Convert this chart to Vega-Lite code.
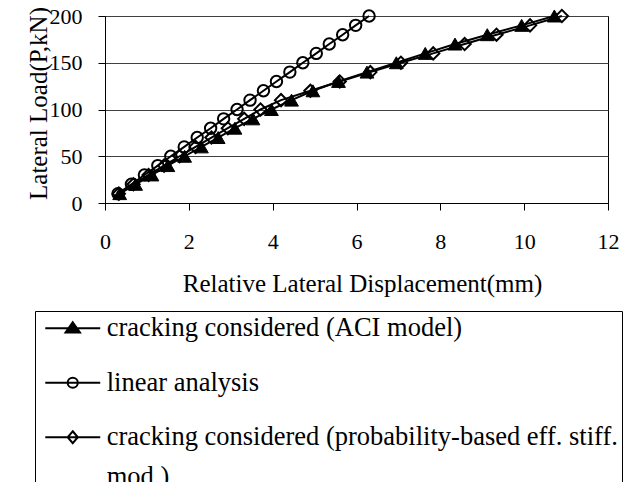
{
  "$schema": "https://vega.github.io/schema/vega-lite/v6.json",
  "width": 503,
  "height": 187,
  "autosize": {"type": "none"},
  "padding": {"left": 105, "top": 16, "right": 24, "bottom": 279},
  "background": "white",
  "config": {
    "font": "Liberation Serif",
    "view": {"stroke": "black", "strokeWidth": 1},
    "style": {"guide-label": {"lineHeight": 40}},
    "axis": {
      "labelFont": "Liberation Serif",
      "labelFontSize": 22,
      "labelColor": "black",
      "labelFlush": false,
      "titleFont": "Liberation Serif",
      "titleFontSize": 25,
      "titleFontWeight": "normal",
      "titleColor": "black",
      "domainColor": "black",
      "tickColor": "black",
      "tickSize": 7,
      "gridColor": "#404040",
      "gridWidth": 1
    },
    "legend": {"labelFont": "Liberation Serif"}
  },
  "data": {
    "values": [
      {"series": "cracking considered (ACI model)", "d": 0.35, "P": 10},
      {"series": "cracking considered (ACI model)", "d": 0.73, "P": 20},
      {"series": "cracking considered (ACI model)", "d": 1.12, "P": 30},
      {"series": "cracking considered (ACI model)", "d": 1.5, "P": 40},
      {"series": "cracking considered (ACI model)", "d": 1.9, "P": 50},
      {"series": "cracking considered (ACI model)", "d": 2.3, "P": 60},
      {"series": "cracking considered (ACI model)", "d": 2.7, "P": 70},
      {"series": "cracking considered (ACI model)", "d": 3.1, "P": 80},
      {"series": "cracking considered (ACI model)", "d": 3.53, "P": 90},
      {"series": "cracking considered (ACI model)", "d": 3.97, "P": 100},
      {"series": "cracking considered (ACI model)", "d": 4.45, "P": 110},
      {"series": "cracking considered (ACI model)", "d": 4.96, "P": 120},
      {"series": "cracking considered (ACI model)", "d": 5.57, "P": 130},
      {"series": "cracking considered (ACI model)", "d": 6.25, "P": 140},
      {"series": "cracking considered (ACI model)", "d": 6.95, "P": 150},
      {"series": "cracking considered (ACI model)", "d": 7.64, "P": 160},
      {"series": "cracking considered (ACI model)", "d": 8.35, "P": 170},
      {"series": "cracking considered (ACI model)", "d": 9.12, "P": 180},
      {"series": "cracking considered (ACI model)", "d": 9.94, "P": 190},
      {"series": "cracking considered (ACI model)", "d": 10.72, "P": 200},
      {"series": "linear analysis", "d": 0.31, "P": 10},
      {"series": "linear analysis", "d": 0.63, "P": 20},
      {"series": "linear analysis", "d": 0.94, "P": 30},
      {"series": "linear analysis", "d": 1.26, "P": 40},
      {"series": "linear analysis", "d": 1.57, "P": 50},
      {"series": "linear analysis", "d": 1.89, "P": 60},
      {"series": "linear analysis", "d": 2.2, "P": 70},
      {"series": "linear analysis", "d": 2.52, "P": 80},
      {"series": "linear analysis", "d": 2.83, "P": 90},
      {"series": "linear analysis", "d": 3.15, "P": 100},
      {"series": "linear analysis", "d": 3.46, "P": 110},
      {"series": "linear analysis", "d": 3.78, "P": 120},
      {"series": "linear analysis", "d": 4.09, "P": 130},
      {"series": "linear analysis", "d": 4.41, "P": 140},
      {"series": "linear analysis", "d": 4.72, "P": 150},
      {"series": "linear analysis", "d": 5.04, "P": 160},
      {"series": "linear analysis", "d": 5.35, "P": 170},
      {"series": "linear analysis", "d": 5.67, "P": 180},
      {"series": "linear analysis", "d": 5.98, "P": 190},
      {"series": "linear analysis", "d": 6.3, "P": 200},
      {"series": "cracking considered (probability-based eff. stiff. mod.)", "d": 0.33, "P": 10},
      {"series": "cracking considered (probability-based eff. stiff. mod.)", "d": 0.68, "P": 20},
      {"series": "cracking considered (probability-based eff. stiff. mod.)", "d": 1.04, "P": 30},
      {"series": "cracking considered (probability-based eff. stiff. mod.)", "d": 1.41, "P": 40},
      {"series": "cracking considered (probability-based eff. stiff. mod.)", "d": 1.78, "P": 50},
      {"series": "cracking considered (probability-based eff. stiff. mod.)", "d": 2.16, "P": 60},
      {"series": "cracking considered (probability-based eff. stiff. mod.)", "d": 2.54, "P": 70},
      {"series": "cracking considered (probability-based eff. stiff. mod.)", "d": 2.93, "P": 80},
      {"series": "cracking considered (probability-based eff. stiff. mod.)", "d": 3.32, "P": 90},
      {"series": "cracking considered (probability-based eff. stiff. mod.)", "d": 3.71, "P": 100},
      {"series": "cracking considered (probability-based eff. stiff. mod.)", "d": 4.2, "P": 110},
      {"series": "cracking considered (probability-based eff. stiff. mod.)", "d": 4.9, "P": 120},
      {"series": "cracking considered (probability-based eff. stiff. mod.)", "d": 5.6, "P": 130},
      {"series": "cracking considered (probability-based eff. stiff. mod.)", "d": 6.33, "P": 140},
      {"series": "cracking considered (probability-based eff. stiff. mod.)", "d": 7.06, "P": 150},
      {"series": "cracking considered (probability-based eff. stiff. mod.)", "d": 7.83, "P": 160},
      {"series": "cracking considered (probability-based eff. stiff. mod.)", "d": 8.58, "P": 170},
      {"series": "cracking considered (probability-based eff. stiff. mod.)", "d": 9.34, "P": 180},
      {"series": "cracking considered (probability-based eff. stiff. mod.)", "d": 10.14, "P": 190},
      {"series": "cracking considered (probability-based eff. stiff. mod.)", "d": 10.9, "P": 200}
    ]
  },
  "encoding": {
    "x": {
      "field": "d",
      "type": "quantitative",
      "scale": {"domain": [0, 12], "nice": false},
      "axis": {
        "values": [0, 2, 4, 6, 8, 10, 12],
        "grid": false,
        "title": "Relative Lateral Displacement(mm)",
        "labelFont": "Liberation Serif",
        "labelFlush": false,
        "labelPadding": 21,
        "tickSize": 7,
        "titleX": 257,
        "titleY": 88,
        "titleBaseline": "alphabetic"
      }
    },
    "y": {
      "field": "P",
      "type": "quantitative",
      "scale": {"domain": [0, 200], "nice": false},
      "axis": {
        "values": [0, 50, 100, 150, 200],
        "grid": true,
        "title": "Lateral Load(P,kN)",
        "labelFont": "Liberation Serif",
        "labelFlush": false,
        "labelPadding": 16,
        "tickSize": 7,
        "titleX": -58.6,
        "titleY": 87,
        "titleBaseline": "alphabetic"
      }
    }
  },
  "layer": [
    {
      "mark": {"type": "line", "color": "black", "strokeWidth": 2},
      "encoding": {
        "detail": {"field": "series", "type": "nominal"},
        "order": {"field": "P", "type": "quantitative"}
      }
    },
    {
      "transform": [{"filter": "datum.series === 'cracking considered (probability-based eff. stiff. mod.)'"}],
      "mark": {"type": "point", "shape": "diamond", "stroke": "black", "fill": "transparent", "filled": false, "size": 150, "strokeWidth": 2, "opacity": 1},
      "encoding": {}
    },
    {
      "transform": [{"filter": "datum.series === 'linear analysis'"}],
      "mark": {"type": "point", "shape": "circle", "stroke": "black", "fill": "transparent", "filled": false, "size": 130, "strokeWidth": 2, "opacity": 1},
      "encoding": {}
    },
    {
      "transform": [{"filter": "datum.series === 'cracking considered (ACI model)'"}],
      "mark": {"type": "point", "shape": "triangle-up", "stroke": "black", "fill": "black", "filled": true, "size": 190, "strokeWidth": 1, "opacity": 1},
      "encoding": {}
    },
    {
      "transform": [{"filter": "false"}],
      "mark": {"type": "point", "strokeWidth": 2, "filled": false, "opacity": 1},
      "encoding": {
        "shape": {
          "field": "series",
          "type": "nominal",
          "scale": {
            "domain": ["cracking considered (ACI model)", "linear analysis", "cracking considered (probability-based eff. stiff. mod.)"],
            "range": [
              "M-4.58,0H4.58M0,-1L1.2,0.7L-1.2,0.7Z",
              "M-4.58,0H4.58M0.85,0A0.85,0.85,0,1,1,-0.85,0A0.85,0.85,0,1,1,0.85,0",
              "M-4.58,0H4.58M0,-1L0.85,0L0,1L-0.85,0Z"
            ]
          },
          "legend": {
            "title": null,
            "orient": "none",
            "legendX": -70,
            "legendY": 295,
            "padding": 4,
            "strokeColor": "black",
            "fillColor": "white",
            "labelFont": "Liberation Serif",
            "labelFontSize": 26.5,
            "labelColor": "black",
            "labelLimit": 700,
            "rowPadding": 27.5,
            "symbolOffset": 20.5,
            "labelOffset": 20.7,
            "symbolSize": 144,
            "symbolStrokeWidth": 2,
            "labelExpr": "datum.label == 'cracking considered (probability-based eff. stiff. mod.)' ? ['cracking considered (probability-based eff. stiff.', 'mod.)'] : datum.label"
          }
        },
        "fill": {
          "field": "series",
          "type": "nominal",
          "scale": {
            "domain": ["cracking considered (ACI model)", "linear analysis", "cracking considered (probability-based eff. stiff. mod.)"],
            "range": ["black", "transparent", "transparent"]
          },
          "legend": {
            "title": null,
            "orient": "none",
            "legendX": -70,
            "legendY": 295,
            "padding": 4,
            "strokeColor": "black",
            "fillColor": "white",
            "labelFont": "Liberation Serif",
            "labelFontSize": 26.5,
            "labelColor": "black",
            "labelLimit": 700,
            "rowPadding": 27.5,
            "symbolOffset": 20.5,
            "labelOffset": 20.7,
            "symbolSize": 144,
            "symbolStrokeWidth": 2,
            "labelExpr": "datum.label == 'cracking considered (probability-based eff. stiff. mod.)' ? ['cracking considered (probability-based eff. stiff.', 'mod.)'] : datum.label"
          }
        },
        "stroke": {
          "field": "series",
          "type": "nominal",
          "scale": {
            "domain": ["cracking considered (ACI model)", "linear analysis", "cracking considered (probability-based eff. stiff. mod.)"],
            "range": ["black", "black", "black"]
          },
          "legend": {
            "title": null,
            "orient": "none",
            "legendX": -70,
            "legendY": 295,
            "padding": 4,
            "strokeColor": "black",
            "fillColor": "white",
            "labelFont": "Liberation Serif",
            "labelFontSize": 26.5,
            "labelColor": "black",
            "labelLimit": 700,
            "rowPadding": 27.5,
            "symbolOffset": 20.5,
            "labelOffset": 20.7,
            "symbolSize": 144,
            "symbolStrokeWidth": 2,
            "labelExpr": "datum.label == 'cracking considered (probability-based eff. stiff. mod.)' ? ['cracking considered (probability-based eff. stiff.', 'mod.)'] : datum.label"
          }
        }
      }
    }
  ]
}
